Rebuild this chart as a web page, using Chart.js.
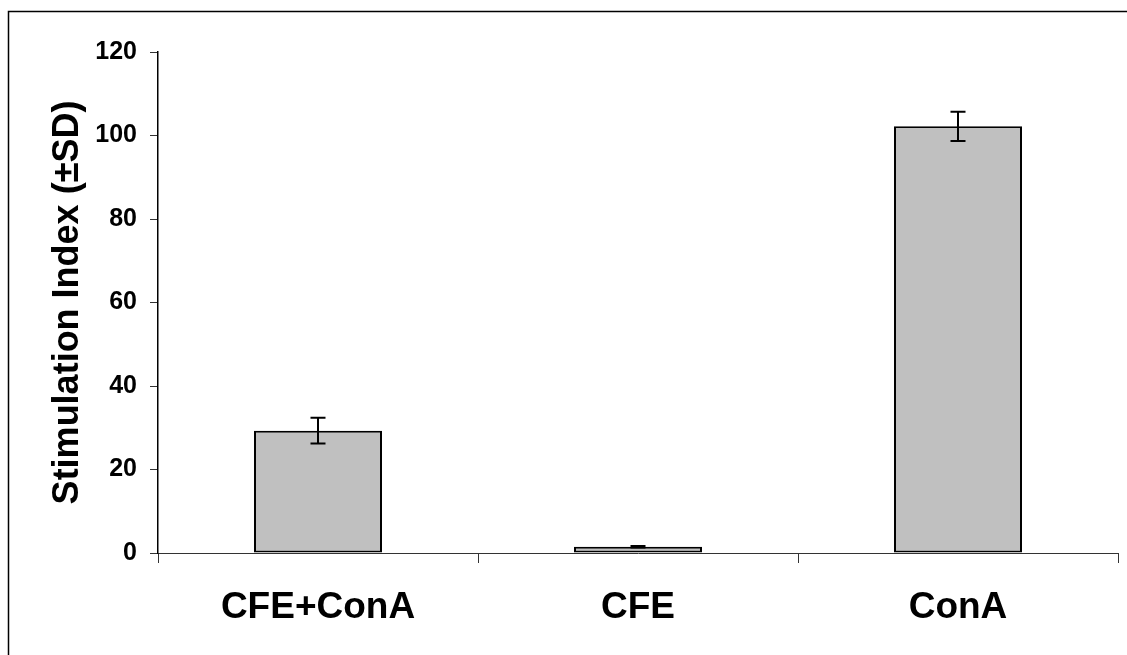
<!DOCTYPE html>
<html>
<head>
<meta charset="utf-8">
<script src="https://cdn.jsdelivr.net/npm/chart.js@4/dist/chart.umd.min.js"></script>
<style>
  html, body { margin: 0; padding: 0; background: #fff; }
  #wrap { width: 1127px; height: 655px; position: relative; }
</style>
</head>
<body>
<div id="wrap"><canvas id="c" width="1127" height="655"></canvas></div>
<script>
const categories = ['CFE+ConA', 'CFE', 'ConA'];
const meanValues = [29.3, 1.5, 102.2];
const sdValues = [3.1, 0.2, 3.5];
const yTicks = [0, 20, 40, 60, 80, 100, 120];
const yTitle = 'Stimulation Index (\u00B1SD)';

const FONT = "'Liberation Sans', Arial, sans-serif";

const frameBorder = {
  id: 'frameBorder',
  beforeDraw(chart) {
    const ctx = chart.ctx;
    ctx.save();
    ctx.fillStyle = '#fff';
    ctx.fillRect(0, 0, chart.width, chart.height);
    ctx.strokeStyle = '#000';
    ctx.lineWidth = 1.5;
    ctx.beginPath();
    ctx.moveTo(8.5, chart.height + 5);
    ctx.lineTo(8.5, 11.5);
    ctx.lineTo(chart.width + 5, 11.5);
    ctx.stroke();
    ctx.restore();
  }
};

const errorBars = {
  id: 'errorBars',
  afterDatasetsDraw(chart) {
    const ctx = chart.ctx;
    const y = chart.scales.y;
    const meta = chart.getDatasetMeta(0);
    ctx.save();
    ctx.strokeStyle = '#000';
    ctx.lineWidth = 2;
    meta.data.forEach((bar, i) => {
      const x = bar.x;
      const top = y.getPixelForValue(meanValues[i] + sdValues[i]);
      const bot = y.getPixelForValue(meanValues[i] - sdValues[i]);
      const cap = 7.5;
      ctx.beginPath();
      ctx.moveTo(x, top); ctx.lineTo(x, bot);
      ctx.moveTo(x - cap, top); ctx.lineTo(x + cap, top);
      ctx.moveTo(x - cap, bot); ctx.lineTo(x + cap, bot);
      ctx.stroke();
    });
    ctx.restore();
  }
};

new Chart(document.getElementById('c'), {
  type: 'bar',
  data: {
    labels: categories,
    datasets: [{
      data: meanValues,
      backgroundColor: '#C0C0C0',
      borderColor: '#000',
      borderWidth: 2,
      borderSkipped: false,
      categoryPercentage: 1.0,
      barPercentage: 0.4
    }]
  },
  options: {
    responsive: false,
    animation: false,
    devicePixelRatio: 1,
    layout: { padding: { left: 0, right: 9, top: 52, bottom: 0 } },
    plugins: {
      legend: { display: false },
      tooltip: { enabled: false },
      title: { display: false }
    },
    scales: {
      x: {
        afterFit(scale) { scale.height = 102; },
        grid: {
          display: true,
          drawOnChartArea: false,
          drawTicks: true,
          tickLength: 10,
          color: '#333',
          offset: true
        },
        border: { display: true, color: '#333', width: 1 },
        ticks: {
          color: '#000',
          padding: 23,
          font: { family: FONT, size: 37, weight: 'bold' }
        }
      },
      y: {
        min: 0,
        max: 120,
        afterFit(scale) { scale.width = 158; },
        afterBuildTicks(scale) { scale.ticks = yTicks.map(v => ({ value: v })); },
        grid: {
          display: true,
          drawOnChartArea: false,
          drawTicks: true,
          tickLength: 8,
          color: '#333'
        },
        border: { display: true, color: '#000', width: 1.5 },
        ticks: {
          color: '#000',
          padding: 13,
          font: { family: FONT, size: 25, weight: 'bold' }
        },
        title: {
          display: true,
          text: yTitle,
          color: '#000',
          padding: { top: 46, bottom: 0 },
          font: { family: FONT, size: 36, weight: 'bold' }
        }
      }
    }
  },
  plugins: [frameBorder, errorBars]
});
</script>
</body>
</html>
